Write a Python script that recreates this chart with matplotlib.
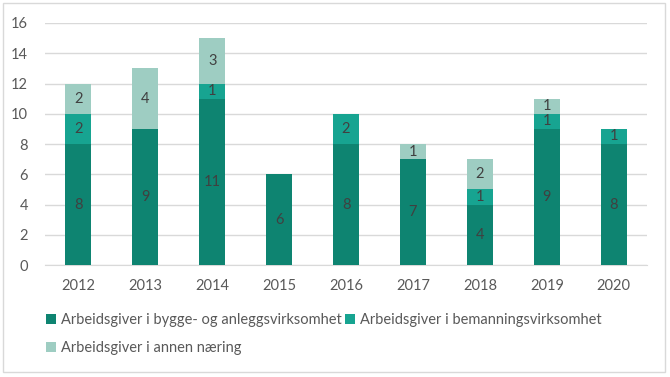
import matplotlib
matplotlib.use('Agg')
import matplotlib.pyplot as plt
import numpy as np
from matplotlib.patches import Rectangle

YEARS = ['2012', '2013', '2014', '2015', '2016', '2017', '2018', '2019', '2020']
BYGGE = [8, 9, 11, 6, 8, 7, 4, 9, 8]
BEMANNING = [2, 0, 1, 0, 2, 0, 1, 1, 1]
ANNEN = [2, 4, 3, 0, 0, 1, 2, 1, 0]
NAMES = ['Arbeidsgiver i bygge- og anleggsvirksomhet',
         'Arbeidsgiver i bemanningsvirksomhet',
         'Arbeidsgiver i annen næring']
COLORS = ['#0E8471', '#17A491', '#9ECDC2']

plt.rcParams['font.family'] = ['Lato', 'DejaVu Sans']

fig = plt.figure(figsize=(6.7, 3.77), dpi=100)
ax = fig.add_axes([0.067, 0.297, 0.899, 0.642])

x = np.arange(len(YEARS))
bottom = np.zeros(len(YEARS))
handles = []
for vals, col, name in zip([BYGGE, BEMANNING, ANNEN], COLORS, NAMES):
    vals = np.array(vals, dtype=float)
    b = ax.bar(x, vals, bottom=bottom, width=0.39, color=col, label=name, zorder=3)
    handles.append(b)
    for xi, v, b0 in zip(x, vals, bottom):
        if v > 0:
            ax.text(xi, b0 + v / 2, f'{int(v)}', ha='center', va='center',
                    fontsize=10.5, color='#404040', zorder=4)
    bottom += vals

ax.set_xlim(-0.5, len(YEARS) - 0.5)
ax.set_ylim(0, 16)
ax.set_yticks(range(0, 17, 2))
ax.set_xticks(x)
ax.set_xticklabels(YEARS)
ax.yaxis.grid(True, color='#D9D9D9', lw=1, zorder=0)
for s in ['top', 'right', 'left']:
    ax.spines[s].set_visible(False)
ax.spines['bottom'].set_color('#D9D9D9')
ax.tick_params(axis='both', length=0, labelsize=10.5, colors='#595959')
ax.tick_params(axis='x', pad=10)
ax.tick_params(axis='y', pad=12)

leg = fig.legend([handles[0], handles[2], handles[1]],
                 [NAMES[0], NAMES[2], NAMES[1]],
                 ncol=2, loc='upper left', bbox_to_anchor=(0.06, 0.185),
                 frameon=False, fontsize=10.5, handlelength=0.7, handleheight=0.7,
                 handletextpad=0.3, columnspacing=0.25, labelspacing=0.95,
                 borderaxespad=0)
for t in leg.get_texts():
    t.set_color('#595959')

fig.patches.append(Rectangle((0.005, 0.013), 0.988, 0.979, transform=fig.transFigure,
                             fill=False, edgecolor='#D9D9D9', lw=1))

fig.savefig('out.png', dpi=100)
plt.close()
